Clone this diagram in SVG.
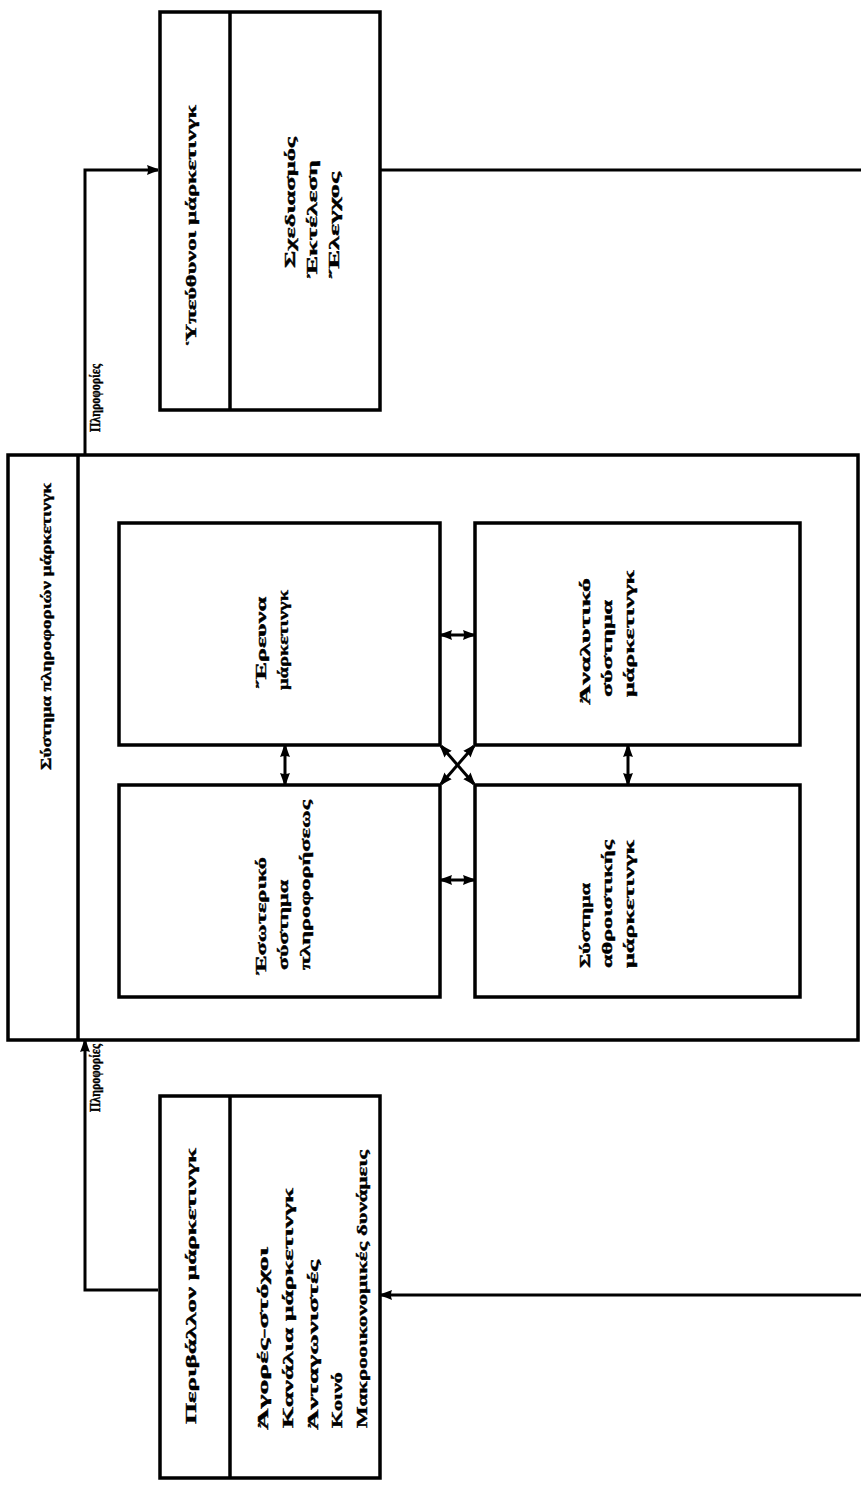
<svg xmlns="http://www.w3.org/2000/svg" width="861" height="1488" viewBox="0 0 861 1488">
<style>
.box{fill:none;stroke:#000;stroke-width:3.5}
.ln{fill:none;stroke:#000;stroke-width:3}
.t{font-family:"Liberation Serif","DejaVu Serif",serif;font-weight:bold;font-size:15px;fill:#000;stroke:#000;stroke-width:0.4}
</style>
<defs>
<marker id="ah" viewBox="0 0 10 10" refX="10" refY="5" markerWidth="11" markerHeight="11" markerUnits="userSpaceOnUse" orient="auto-start-reverse">
<path d="M0,0.5 Q5,2.5 10,4 L10,6 Q5,7.5 0,9.5 Q2,5 0,0.5 Z" fill="#000"/>
</marker>
</defs>
<rect width="861" height="1488" fill="#fff"/>

<g id="connectors">
<polyline class="ln" points="85,455 85,170 158,170" marker-end="url(#ah)"/>
<line class="ln" x1="380" y1="170" x2="861" y2="170"/>
<polyline class="ln" points="158,1290 85,1290 85,1041" marker-end="url(#ah)"/>
<line class="ln" x1="861" y1="1295" x2="381" y2="1295" marker-end="url(#ah)"/>
<line class="ln" x1="441" y1="635" x2="474" y2="635" marker-start="url(#ah)" marker-end="url(#ah)"/>
<line class="ln" x1="441" y1="880" x2="474" y2="880" marker-start="url(#ah)" marker-end="url(#ah)"/>
<line class="ln" x1="285" y1="746" x2="285" y2="784" marker-start="url(#ah)" marker-end="url(#ah)"/>
<line class="ln" x1="628" y1="746" x2="628" y2="784" marker-start="url(#ah)" marker-end="url(#ah)"/>
<line class="ln" x1="441" y1="746" x2="474" y2="784" marker-start="url(#ah)" marker-end="url(#ah)"/>
<line class="ln" x1="474" y1="746" x2="441" y2="784" marker-start="url(#ah)" marker-end="url(#ah)"/>
<text class="t" transform="translate(100,432) rotate(-90)" textLength="68" lengthAdjust="spacingAndGlyphs">Πληροφορίες</text>
<text class="t" transform="translate(100,1112) rotate(-90)" textLength="68" lengthAdjust="spacingAndGlyphs">Πληροφορίες</text>
</g>

<g id="managers">
<rect class="box" x="160" y="12" width="220" height="398"/>
<line class="box" x1="230" y1="12" x2="230" y2="410"/>
<text class="t" transform="translate(196,345) rotate(-90)" textLength="240" lengthAdjust="spacingAndGlyphs">Ὑπεύθυνοι μάρκετινγκ</text>
<text class="t" transform="translate(295,268) rotate(-90)" textLength="131" lengthAdjust="spacingAndGlyphs">Σχεδιασμός</text>
<text class="t" transform="translate(317,278) rotate(-90)" textLength="118" lengthAdjust="spacingAndGlyphs">Ἐκτέλεση</text>
<text class="t" transform="translate(339,278) rotate(-90)" textLength="106" lengthAdjust="spacingAndGlyphs">Ἔλεγχος</text>
</g>

<g id="mis">
<rect class="box" x="8" y="455" width="850" height="585"/>
<line class="box" x1="78" y1="455" x2="78" y2="1040"/>
<text class="t" transform="translate(51,770) rotate(-90)" textLength="287" lengthAdjust="spacingAndGlyphs">Σύστημα πληροφοριών μάρκετινγκ</text>
</g>

<g id="research">
<rect class="box" x="119" y="523" width="321" height="222"/>
<text class="t" transform="translate(266,688) rotate(-90)" textLength="91" lengthAdjust="spacingAndGlyphs">Ἔρευνα</text>
<text class="t" transform="translate(288,690) rotate(-90)" textLength="100" lengthAdjust="spacingAndGlyphs">μάρκετινγκ</text>
</g>

<g id="analytic">
<rect class="box" x="475" y="523" width="325" height="222"/>
<text class="t" transform="translate(590,705) rotate(-90)" textLength="127" lengthAdjust="spacingAndGlyphs">Ἀναλυτικό</text>
<text class="t" transform="translate(612,697) rotate(-90)" textLength="97" lengthAdjust="spacingAndGlyphs">σύστημα</text>
<text class="t" transform="translate(634,697) rotate(-90)" textLength="127" lengthAdjust="spacingAndGlyphs">μάρκετινγκ</text>
</g>

<g id="internal">
<rect class="box" x="119" y="785" width="321" height="212"/>
<text class="t" transform="translate(266,975) rotate(-90)" textLength="118" lengthAdjust="spacingAndGlyphs">Ἐσωτερικό</text>
<text class="t" transform="translate(288,970) rotate(-90)" textLength="90" lengthAdjust="spacingAndGlyphs">σύστημα</text>
<text class="t" transform="translate(310,970) rotate(-90)" textLength="170" lengthAdjust="spacingAndGlyphs">πληροφορήσεως</text>
</g>

<g id="intelligence">
<rect class="box" x="475" y="785" width="325" height="212"/>
<text class="t" transform="translate(590,968) rotate(-90)" textLength="85" lengthAdjust="spacingAndGlyphs">Σύστημα</text>
<text class="t" transform="translate(612,968) rotate(-90)" textLength="128" lengthAdjust="spacingAndGlyphs">αθροιστικής</text>
<text class="t" transform="translate(634,968) rotate(-90)" textLength="128" lengthAdjust="spacingAndGlyphs">μάρκετινγκ</text>
</g>

<g id="environment">
<rect class="box" x="160" y="1096" width="220" height="382"/>
<line class="box" x1="230" y1="1096" x2="230" y2="1478"/>
<text class="t" transform="translate(196,1424) rotate(-90)" textLength="276" lengthAdjust="spacingAndGlyphs">Περιβάλλον μάρκετινγκ</text>
<text class="t" transform="translate(268,1430) rotate(-90)" textLength="183" lengthAdjust="spacingAndGlyphs">Ἀγορές-στόχοι</text>
<text class="t" transform="translate(293,1428) rotate(-90)" textLength="240" lengthAdjust="spacingAndGlyphs">Κανάλια μάρκετινγκ</text>
<text class="t" transform="translate(318,1430) rotate(-90)" textLength="170" lengthAdjust="spacingAndGlyphs">Ἀνταγωνιστές</text>
<text class="t" transform="translate(342,1428) rotate(-90)" textLength="56" lengthAdjust="spacingAndGlyphs">Κοινό</text>
<text class="t" transform="translate(367,1428) rotate(-90)" textLength="278" lengthAdjust="spacingAndGlyphs">Μακροοικονομικές δυνάμεις</text>
</g>
</svg>
